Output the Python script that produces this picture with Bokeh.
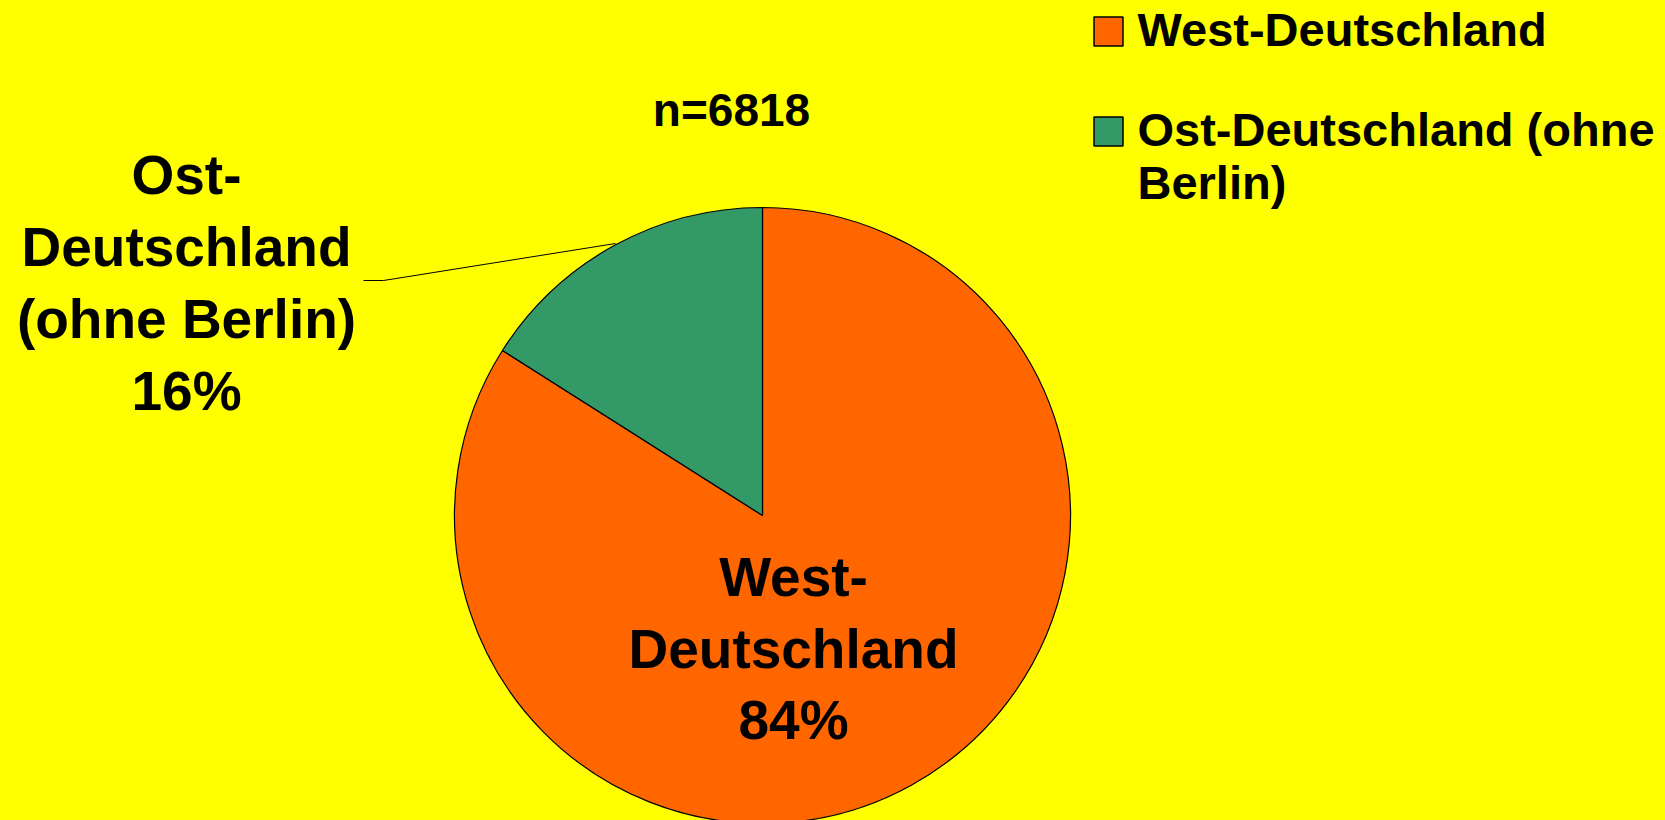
import math
from bokeh.plotting import figure
from bokeh.models import Range1d, ColumnDataSource
from bokeh.core.properties import value
from bokeh.embed import file_html
from bokeh.resources import INLINE

# ---- data ----
categories = ["West-Deutschland", "Ost-Deutschland (ohne Berlin)"]
shares = [84, 16]
colors = ["#FF6600", "#339966"]
slice_label_lines = [["West-", "Deutschland", "84%"],
                     ["Ost-", "Deutschland", "(ohne Berlin)", "16%"]]
legend_lines = [["West-Deutschland"], ["Ost-Deutschland (ohne", "Berlin)"]]
sample_text = "n=6818"

# ---- layout (reference pixel coordinates) ----
W, H = 1665, 820
def Y(py):
    return H - py

def BY(baseline, size):
    # compensate renderer's baseline placement (empirical)
    return Y(baseline - 0.34 * size)

cx, cy, R = 762, Y(515), 308
FONT = value("Liberation Sans")

p = figure(width=W, height=H, output_backend="svg", toolbar_location=None,
           x_range=Range1d(0, W), y_range=Range1d(0, H),
           min_border=0, background_fill_color="#FFFF00",
           border_fill_color="#FFFF00", outline_line_color=None)
p.xaxis.visible = False
p.yaxis.visible = False
p.grid.visible = False

# pie wedges (clockwise from 12 o'clock, like Excel)
total = float(sum(shares))
starts, ends = [], []
a = math.pi / 2
for s in shares:
    b = a - s / total * 2 * math.pi
    starts.append(a)
    ends.append(b)
    a = b
src = ColumnDataSource(dict(cat=categories, start=starts, end=ends, color=colors))
p.wedge(x=cx, y=cy, radius=R, start_angle="start", end_angle="end",
        direction="clock", fill_color="color", line_color="black",
        line_width=1.2, source=src)

# leader line for the small slice
p.line(x=[363, 383, 615], y=[Y(280), Y(280), Y(243)], line_color="black", line_width=1)

# slice labels
LS = 55
label_pos = [(793, [595, 667, 738]), (186, [193, 265, 337, 409])]
for (lx, baselines), lines in zip(label_pos, slice_label_lines):
    p.text(x=[lx] * len(lines), y=[BY(b, LS) for b in baselines], text=lines,
           text_font=FONT, text_font_size=f"{LS}px", text_font_style="bold",
           text_align="center", text_baseline="alphabetic", text_color="black")

# sample size
NS = 46
p.text(x=[731], y=[BY(125, NS)], text=[sample_text], text_font=FONT,
       text_font_size=f"{NS}px", text_font_style="bold", text_align="center",
       text_baseline="alphabetic", text_color="black")

# legend (manual)
sq_y = [31, 131]
p.scatter(x=[1108, 1108], y=[Y(v) for v in sq_y], marker="square", size=29,
          fill_color=colors, line_color="black", line_width=1.5)
GS = 47
leg_baselines = [[45], [145, 198]]
for lines, bl in zip(legend_lines, leg_baselines):
    p.text(x=[1137] * len(lines), y=[BY(b, GS) for b in bl], text=lines,
           text_font=FONT, text_font_size=f"{GS}px", text_font_style="bold",
           text_align="left", text_baseline="alphabetic", text_color="black")

template = """{% block preamble %}<style>html, body { background: #FFFF00; overflow: hidden; }</style>{% endblock %}"""
open("out.html", "w").write(file_html(p, INLINE, template=template))
